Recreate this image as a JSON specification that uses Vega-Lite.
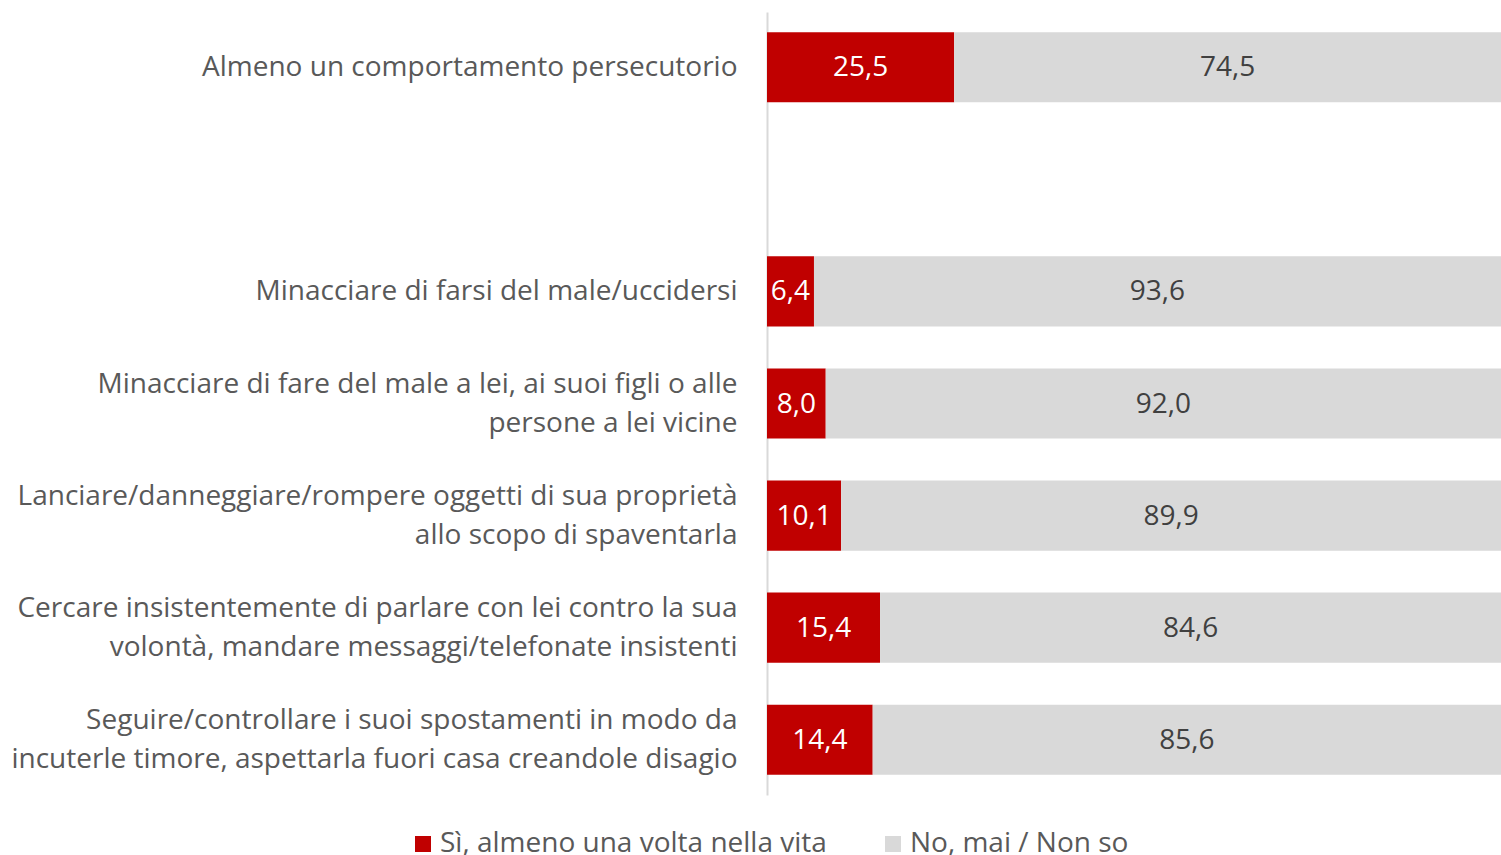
{
  "$schema": "https://vega.github.io/schema/vega-lite/v6.json",
  "width": 734,
  "height": 783,
  "autosize": {"type": "none"},
  "padding": {"left": 767, "top": 12, "right": 0, "bottom": 60},
  "background": "white",
  "config": {
    "font": "Open Sans",
    "view": {"stroke": null},
    "locale": {"number": {"decimal": ",", "thousands": ".", "grouping": [3], "currency": ["€", ""]}}
  },
  "data": {
    "values": [
      {"cat": "Almeno un comportamento persecutorio", "resp": "Sì, almeno una volta nella vita", "ord": 1, "value": 25.5},
      {"cat": "Almeno un comportamento persecutorio", "resp": "No, mai / Non so", "ord": 2, "value": 74.5},
      {"cat": "Minacciare di farsi del male/uccidersi", "resp": "Sì, almeno una volta nella vita", "ord": 1, "value": 6.4},
      {"cat": "Minacciare di farsi del male/uccidersi", "resp": "No, mai / Non so", "ord": 2, "value": 93.6},
      {"cat": "Minacciare di fare del male a lei, ai suoi figli o alle|persone a lei vicine", "resp": "Sì, almeno una volta nella vita", "ord": 1, "value": 8.0},
      {"cat": "Minacciare di fare del male a lei, ai suoi figli o alle|persone a lei vicine", "resp": "No, mai / Non so", "ord": 2, "value": 92.0},
      {"cat": "Lanciare/danneggiare/rompere oggetti di sua proprietà|allo scopo di spaventarla", "resp": "Sì, almeno una volta nella vita", "ord": 1, "value": 10.1},
      {"cat": "Lanciare/danneggiare/rompere oggetti di sua proprietà|allo scopo di spaventarla", "resp": "No, mai / Non so", "ord": 2, "value": 89.9},
      {"cat": "Cercare insistentemente di parlare con lei contro la sua|volontà, mandare messaggi/telefonate insistenti", "resp": "Sì, almeno una volta nella vita", "ord": 1, "value": 15.4},
      {"cat": "Cercare insistentemente di parlare con lei contro la sua|volontà, mandare messaggi/telefonate insistenti", "resp": "No, mai / Non so", "ord": 2, "value": 84.6},
      {"cat": "Seguire/controllare i suoi spostamenti in modo da|incuterle timore, aspettarla fuori casa creandole disagio", "resp": "Sì, almeno una volta nella vita", "ord": 1, "value": 14.4},
      {"cat": "Seguire/controllare i suoi spostamenti in modo da|incuterle timore, aspettarla fuori casa creandole disagio", "resp": "No, mai / Non so", "ord": 2, "value": 85.6}
    ]
  },
  "transform": [
    {"stack": "value", "groupby": ["cat"], "sort": [{"field": "ord"}], "as": ["v0", "v1"]},
    {"calculate": "(datum.v0 + datum.v1) / 2", "as": "mid"}
  ],
  "encoding": {
    "y": {
      "field": "cat",
      "type": "nominal",
      "scale": {
        "domain": [
          "Almeno un comportamento persecutorio",
          " ",
          "Minacciare di farsi del male/uccidersi",
          "Minacciare di fare del male a lei, ai suoi figli o alle|persone a lei vicine",
          "Lanciare/danneggiare/rompere oggetti di sua proprietà|allo scopo di spaventarla",
          "Cercare insistentemente di parlare con lei contro la sua|volontà, mandare messaggi/telefonate insistenti",
          "Seguire/controllare i suoi spostamenti in modo da|incuterle timore, aspettarla fuori casa creandole disagio"
        ],
        "paddingInner": 0.374,
        "paddingOuter": 0.18
      },
      "axis": {
        "title": null,
        "ticks": false,
        "domain": true,
        "domainColor": "#D9D9D9",
        "domainWidth": 2,
        "labelExpr": "split(datum.label, '|')",
        "labelFontSize": 28,
        "labelColor": "#595959",
        "labelPadding": 30,
        "labelLimit": 800,
        "labelLineHeight": 39,
        "labelOffset": {"condition": {"test": "indexof(datum.value, '|') >= 0", "value": -19}, "value": 1}
      }
    }
  },
  "layer": [
    {
      "mark": {"type": "bar"},
      "encoding": {
        "x": {"field": "v0", "type": "quantitative", "scale": {"domain": [0, 100], "nice": false}, "axis": null},
        "x2": {"field": "v1"},
        "color": {
          "field": "resp",
          "type": "nominal",
          "scale": {"domain": ["Sì, almeno una volta nella vita", "No, mai / Non so"], "range": ["#C00000", "#D9D9D9"]},
          "legend": {
            "title": null,
            "orient": "none",
            "direction": "horizontal",
            "legendX": -358,
            "legendY": 818,
            "symbolType": "square",
            "symbolSize": 256,
            "symbolStrokeWidth": 0,
            "labelFontSize": 28,
            "labelColor": "#595959",
            "labelLimit": 600,
            "columnPadding": 52,
            "labelOffset": 3
          }
        }
      }
    },
    {
      "mark": {"type": "text", "fontSize": 28, "align": "center", "baseline": "middle", "dy": 1},
      "encoding": {
        "x": {"field": "mid", "type": "quantitative"},
        "text": {"field": "value", "type": "quantitative", "format": ".1f"},
        "color": {
          "condition": {"test": "datum.ord == 1", "value": "white"},
          "value": "#404040"
        }
      }
    }
  ]
}
